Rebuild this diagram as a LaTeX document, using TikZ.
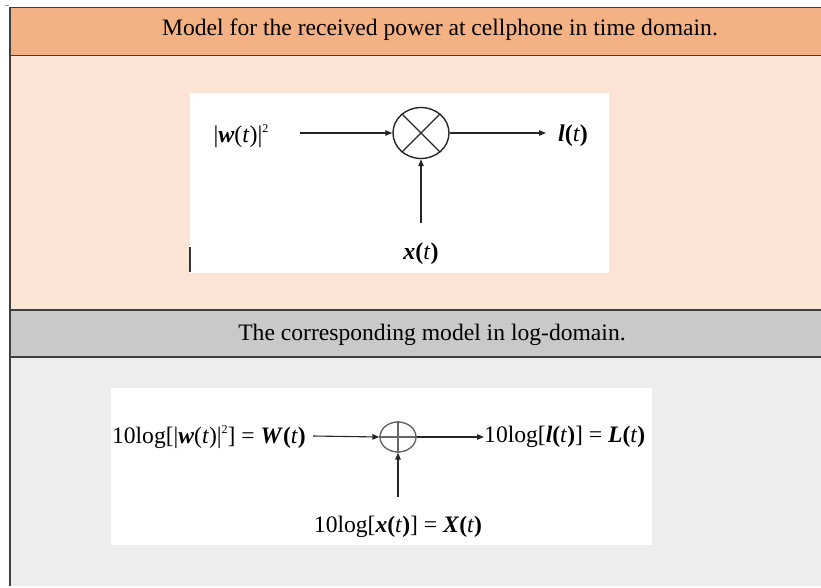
\documentclass[tikz,border=0pt]{standalone}
\usepackage{fontspec}
\setmainfont{Liberation Serif}
\usetikzlibrary{arrows.meta,shapes.geometric}
\definecolor{hdrorange}{HTML}{F4B183}
\definecolor{bodypeach}{HTML}{FCE4D6}
\definecolor{hdrgray}{HTML}{C9C9C9}
\definecolor{bodygray}{HTML}{EDEDED}
\definecolor{frame}{HTML}{3F3F3F}
\newcommand{\bi}[1]{\textbf{\textit{#1}}}
\newcommand{\fn}[1]{\bi{#1}\textbf{(}\textit{t}\textbf{)}}
\newcommand{\sqr}{\raisebox{0.42em}{\fontsize{12}{12}\selectfont 2}}
\begin{document}
\begin{tikzpicture}[x=1pt,y=-1pt,
  title/.style={font=\fontsize{23.6}{28}\selectfont, inner sep=0pt},
  lbltop/.style={font=\fontsize{24}{28}\selectfont, inner sep=0pt},
  lblbot/.style={font=\fontsize{23.6}{27}\selectfont, inner sep=0pt},
  arr/.style={line width=1.1pt, draw=black!85, -{Triangle[length=7pt,width=5.5pt]}},
  mult/.style={ellipse, draw=black!85, line width=1.4pt, minimum width=56pt, minimum height=51pt, inner sep=0pt},
  summ/.style={ellipse, draw=black!60, line width=1.4pt, minimum width=36pt, minimum height=30pt, inner sep=0pt},
  panel/.style={fill=white, draw=none}
]
\useasboundingbox (0,0) rectangle (821,588);
\fill[white] (0,0) rectangle (821,588);
% bands
\fill[hdrorange] (9,8) rectangle (821,55);
\fill[bodypeach] (9,56) rectangle (821,309);
\fill[hdrgray] (9,311) rectangle (821,356);
\fill[bodygray] (9,358) rectangle (821,586);
% frame lines
\draw[frame, line width=1.5pt] (9,7.5) -- (821,7.5);
\draw[frame, line width=1.8pt] (9,55.5) -- (821,55.5);
\draw[frame, line width=1.8pt] (9,310) -- (821,310);
\draw[frame, line width=1.8pt] (9,357) -- (821,357);
\draw[frame, line width=2pt] (10,7) -- (10,586);
\draw[black!40, line width=1pt] (5,6) -- (9,6);
% titles
\node[title] (t1) at (440,30) {Model for the received power at cellphone in time domain.};
\node[title] (t2) at (432,335) {The corresponding model in log-domain.};
% top panel
\fill[panel] (190,93) rectangle (609,273);
\draw[black!80, line width=1.3pt] (190,247) -- (190,272);
\node[mult] (m1) at (421,133) {};
\draw[black!85, line width=1.3pt] (m1.45) -- (m1.225) (m1.135) -- (m1.315);
\node[lbltop] (w1) at (241,136) {|\bi{w}(\textit{t})|\sqr};
\node[lbltop] (l1) at (573,136) {\fn{l}};
\node[lbltop] (x1) at (421,254) {\fn{x}};
\coordinate (in1) at (300,133);
\coordinate (out1) at (546,133);
\coordinate (up1) at (421,223);
\draw[arr] (in1) -- (m1.west);
\draw[arr] (m1.east) -- (out1);
\draw[arr] (up1) -- (m1.south);
% bottom panel
\fill[panel] (111,388) rectangle (652,545);
\node[summ] (m2) at (398,437) {};
\draw[black!60, line width=1.3pt] (m2.west) -- (m2.east) (m2.north) -- (m2.south);
\node[lblbot, anchor=east] (w2) at (306,437) {10log[|\bi{w}(\textit{t})|\sqr] = \fn{W}};
\node[lblbot, anchor=west] (l2) at (484,437) {10log[\fn{l}] = \fn{L}};
\node[lblbot] (x2) at (398,527) {10log[\fn{x}] = \fn{X}};
\coordinate (in2) at (313,436);
\coordinate (up2) at (398,497);
\draw[arr] (in2) -- (m2.west);
\draw[arr] (m2.east) -- (l2.west);
\draw[arr] (up2) -- (m2.south);
\end{tikzpicture}
\end{document}
